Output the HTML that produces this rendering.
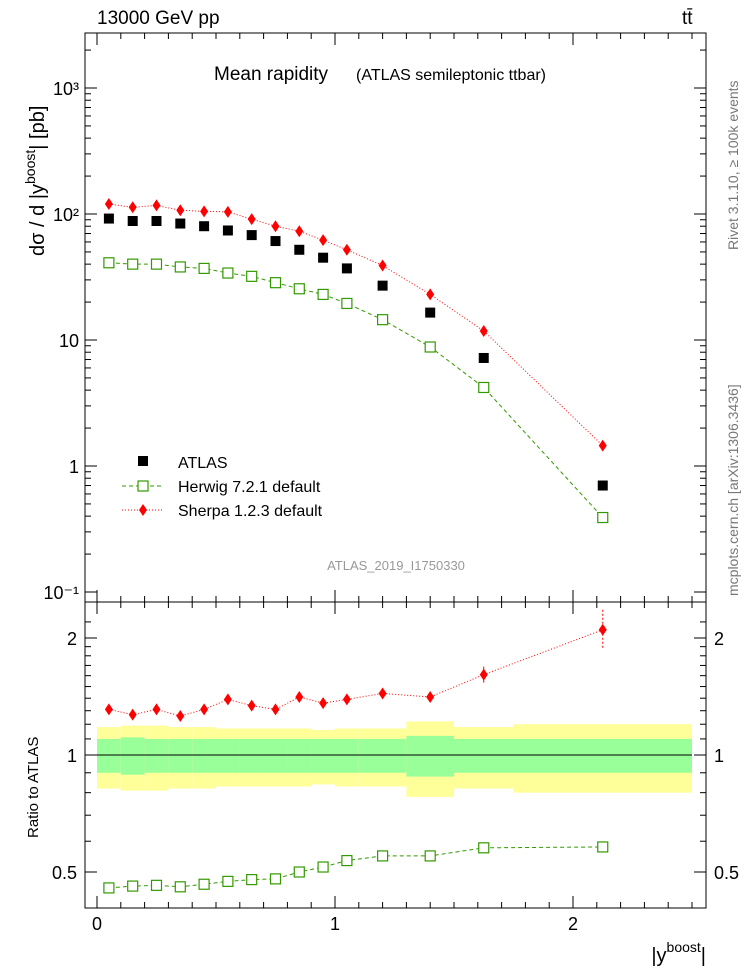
<!DOCTYPE html>
<html><head><meta charset="utf-8"><style>
body{margin:0;background:#fff;}
svg text{font-family:"Liberation Sans",sans-serif;}
</style></head><body>
<svg id="c" width="746" height="972" xmlns="http://www.w3.org/2000/svg"></svg>
<script>
const binEdges=[0,0.1,0.2,0.3,0.4,0.5,0.6,0.7,0.8,0.9,1.0,1.1,1.3,1.5,1.75,2.5];
const atlasVals=[92,88,88,84,80,74,68,61,52,45,37,27,16.5,7.2,0.7];
const herwigVals=[41,40,40,38,37,34,32,28.5,25.5,23,19.5,14.5,8.8,4.2,0.39];
const sherpaVals=[120,113,117,107,105,104,91,80,73,62,52,39,23,11.8,1.45];
const herwigRatio=[0.455,0.46,0.462,0.458,0.465,0.473,0.478,0.48,0.5,0.515,0.535,0.55,0.55,0.577,0.58];
const sherpaRatio=[1.31,1.27,1.31,1.26,1.31,1.39,1.34,1.31,1.41,1.36,1.39,1.44,1.41,1.61,2.1];
const bandInner=[0.1,0.11,0.1,0.1,0.1,0.1,0.1,0.1,0.1,0.1,0.1,0.1,0.12,0.1,0.1];
const bandOuter=[0.18,0.19,0.19,0.18,0.18,0.17,0.17,0.17,0.17,0.16,0.17,0.17,0.22,0.18,0.2];
const xTicks=[0,1,2];
const mainTicks=[{v:1000,l:"10³"},{v:100,l:"10²"},{v:10,l:"10"},{v:1,l:"1"},{v:0.1,l:"10⁻¹"}];
const ratioTicks=[{v:2,l:"2"},{v:1,l:"1"},{v:0.5,l:"0.5"}];

const NS="http://www.w3.org/2000/svg",svg=document.getElementById('c');
const L=85,R=706,T=33,MB=602,RB=908;
const X=v=>97+v*238;
const Y=v=>466-126*Math.log10(v);
const YR=v=>755-117*Math.log2(v);
function el(t,a,p){const e=document.createElementNS(NS,t);for(const k in a)e.setAttribute(k,a[k]);(p||svg).appendChild(e);return e;}
function txt(x,y,s,a){const e=el('text',Object.assign({x:x,y:y,'font-size':16},a||{}));e.textContent=s;return e;}
function tsp(parent,s,a){const e=el('tspan',a||{},parent);e.textContent=s;return e;}
const ctr=i=>(binEdges[i]+binEdges[i+1])/2;

for(let i=0;i<atlasVals.length;i++){
 const x0=X(binEdges[i]),x1=X(binEdges[i+1]);
 const y=el('rect',{x:x0,y:YR(1+bandOuter[i]),width:x1-x0,height:YR(1-bandOuter[i])-YR(1+bandOuter[i]),fill:'#ffff99'});
 
 const g=el('rect',{x:x0,y:YR(1+bandInner[i]),width:x1-x0,height:YR(1-bandInner[i])-YR(1+bandInner[i]),fill:'#99ff99'});
 
}
el('line',{x1:X(0),x2:X(2.5),y1:YR(1),y2:YR(1),stroke:'#000'});

el('rect',{x:L,y:T,width:R-L,height:MB-T,fill:'none',stroke:'#000'});
el('rect',{x:L,y:MB,width:R-L,height:RB-MB,fill:'none',stroke:'#000'});

for(const t of xTicks){for(const [a,b] of [[MB,MB-12],[RB,RB-12],[T,T+12],[MB,MB+12]]) el('line',{x1:X(t),x2:X(t),y1:a,y2:b,stroke:'#000'});
 txt(X(t),930,String(t),{'text-anchor':'middle','font-size':18});}
for(let v=0.1;v<2.55;v+=0.1){if(Math.abs(v-Math.round(v))<0.01)continue;for(const [a,b] of [[MB,MB-6],[RB,RB-6],[T,T+6],[MB,MB+6]])el('line',{x1:X(v),x2:X(v),y1:a,y2:b,stroke:'#000'});}
for(let d=-1;d<=3;d++)for(let m=1;m<10;m++){const v=m*Math.pow(10,d);const y=Y(v);if(y<T||y>MB)continue;const w=m==1?12:6;
 el('line',{x1:L,x2:L+w,y1:y,y2:y,stroke:'#000'});el('line',{x1:R,x2:R-w,y1:y,y2:y,stroke:'#000'});}
for(const t of mainTicks){const e=txt(L-6,Y(t.v)+7,t.l,{'text-anchor':'end','font-size':18});}
for(const v of [0.5,0.6,0.7,0.8,0.9,1,1.1,1.2,1.3,1.4,1.5,1.6,1.7,1.8,1.9,2,2.2]){const y=YR(v);const w=(v==0.5||v==1||v==2)?12:6;
 el('line',{x1:L,x2:L+w,y1:y,y2:y,stroke:'#000'});el('line',{x1:R,x2:R-w,y1:y,y2:y,stroke:'#000'});}
for(const t of ratioTicks){txt(L-8,YR(t.v)+7,t.l,{'text-anchor':'end','font-size':18});txt(R+8,YR(t.v)+7,t.l,{'font-size':18});}

function line(vals,yf,color,dash,name){let d='';vals.forEach((v,i)=>{d+=(i?'L':'M')+X(ctr(i))+','+yf(v);});
 const p=el('path',{d:d,fill:'none',stroke:color,'stroke-dasharray':dash});}
function sq(x,y,name){const r=el('rect',{x:x-5,y:y-5,width:10,height:10,fill:'#fff',stroke:'#339900','stroke-width':1.2});}
function dia(x,y,name){const p=el('path',{d:`M${x},${y-6}L${x+4},${y}L${x},${y+6}L${x-4},${y}Z`,fill:'#ff0000'});}
line(herwigVals,Y,'#339900','4,3','herwig-line');
line(sherpaVals,Y,'#ff0000','1,2','sherpa-line');
atlasVals.forEach((v,i)=>{const r=el('rect',{x:X(ctr(i))-5,y:Y(v)-5,width:10,height:10,fill:'#000'});});
herwigVals.forEach((v,i)=>sq(X(ctr(i)),Y(v),'herwig-point'));
sherpaVals.forEach((v,i)=>dia(X(ctr(i)),Y(v),'sherpa-point'));
line(herwigRatio,YR,'#339900','4,3','herwig-ratio-line');
line(sherpaRatio,YR,'#ff0000','1,2','sherpa-ratio-line');
herwigRatio.forEach((v,i)=>sq(X(ctr(i)),YR(v),'herwig-ratio-point'));
sherpaRatio.forEach((v,i)=>{const x=X(ctr(i)),y=YR(v);const e=i>=13?(i==14?20:8):4;el('line',{x1:x,x2:x,y1:y-e,y2:y+e,stroke:'#ff0000','stroke-dasharray':i==14?'2,2':''});dia(x,y,'sherpa-ratio-point');});

txt(97,24,'13000 GeV pp',{'font-size':19,});
txt(682,24,'tt̄',{'font-size':19});
txt(214,80,'Mean rapidity',{'font-size':19,});
txt(356,80,'(ATLAS semileptonic ttbar)',{'font-size':16});
txt(396,570,'ATLAS_2019_I1750330',{'font-size':13,fill:'#999','text-anchor':'middle'});
el('rect',{x:138,y:456,width:10,height:10,fill:'#000'});txt(178,468,'ATLAS',{'font-size':16,});
el('line',{x1:122,x2:164,y1:486,y2:486,stroke:'#339900','stroke-dasharray':'4,3'});sq(143,486,'legend-herwig-marker');txt(178,492,'Herwig 7.2.1 default',{'font-size':16,});
el('line',{x1:122,x2:164,y1:510,y2:510,stroke:'#ff0000','stroke-dasharray':'1,2'});dia(143,510,'legend-sherpa-marker');txt(178,516,'Sherpa 1.2.3 default',{'font-size':16,});
// y title
const yt=el('text',{x:0,y:0,'font-size':20,transform:'translate(44,256) rotate(-90)',});
tsp(yt,'dσ / d |y');tsp(yt,'boost',{'font-size':14,dy:-9});tsp(yt,'| [pb]',{dy:9});
txt(0,0,'Ratio to ATLAS',{'font-size':15,transform:'translate(38,838) rotate(-90)',});
const xt=el('text',{x:706,y:962,'font-size':20,'text-anchor':'end',});
tsp(xt,'|y');tsp(xt,'boost',{'font-size':14,dy:-10});tsp(xt,'|',{dy:10});
txt(0,0,'Rivet 3.1.10, ≥ 100k events',{'font-size':14,fill:'#777',transform:'translate(738,250) rotate(-90)'});
txt(0,0,'mcplots.cern.ch [arXiv:1306.3436]',{'font-size':14,fill:'#777',transform:'translate(738,596) rotate(-90)'});
</script>
</body></html>
